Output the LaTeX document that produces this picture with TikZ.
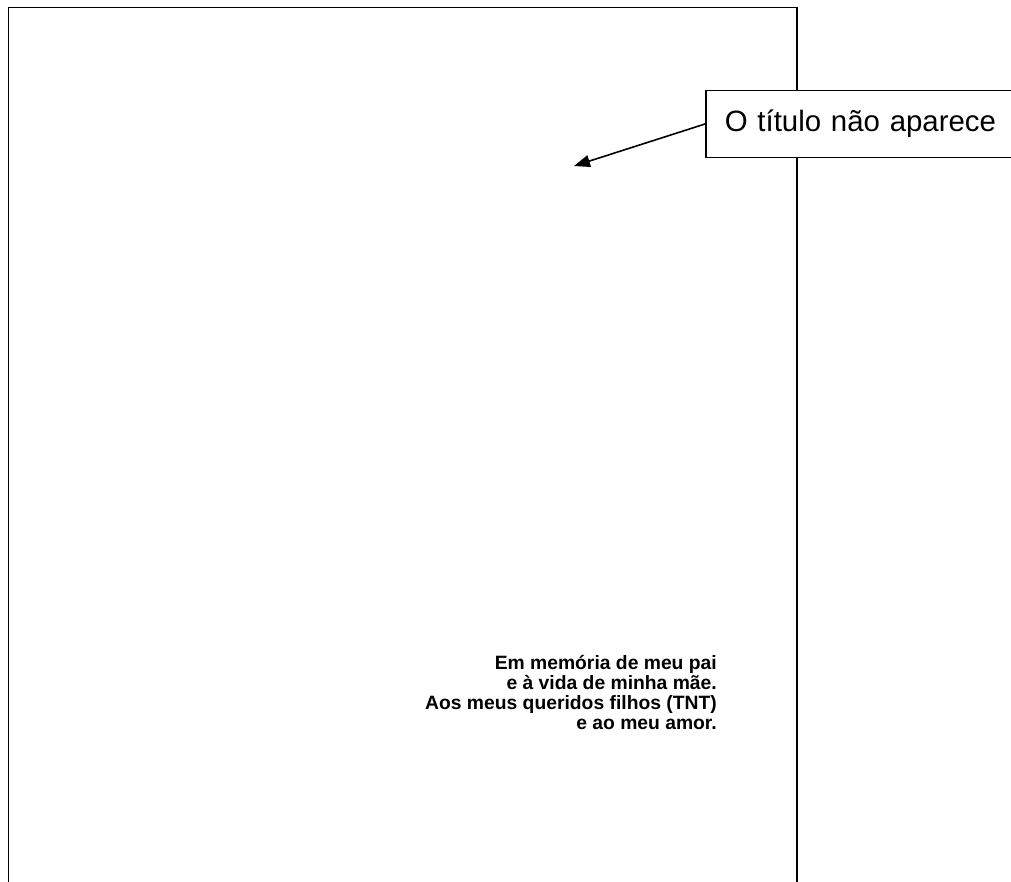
\documentclass[tikz,border=0pt]{standalone}
\usepackage{fontspec}
\setmainfont{Liberation Sans}
\usetikzlibrary{arrows.meta}
\begin{document}
\begin{tikzpicture}[x=1pt,y=-1pt,
  frame/.style={draw=black,line width=1.7pt},
  callout/.style={draw=black,line width=1.5pt,fill=white,anchor=west,
    minimum height=67pt,text width=285pt,inner xsep=19pt,align=left,
    font=\fontsize{29.4}{35}\selectfont},
  pointer/.style={line width=1.6pt,-{Triangle[length=16pt,width=12pt]}},
  dedication/.style={anchor=base east,inner sep=0pt,align=right,
    font=\bfseries\fontsize{19.3}{19.8}\selectfont}]
  \useasboundingbox (0,0) rectangle (1011,882);
  % page outline, running off the bottom edge
  \draw[frame] (8.5,900) -- (8.5,7.5) -- (797,7.5) -- (797,900);
  % callout box with its pointer
  \node[callout] (note) at (705,124) {O título não aparece};
  \coordinate (target) at (574,166);
  \draw[pointer] (note.west) -- (target);
  % dedication text (anchored at the baseline of its last line)
  \node[dedication] (ded) at (717,729)
    {Em memória de meu pai\\e à vida de minha mãe.\\Aos meus queridos filhos (TNT)\\e ao meu amor.};
\end{tikzpicture}
\end{document}
